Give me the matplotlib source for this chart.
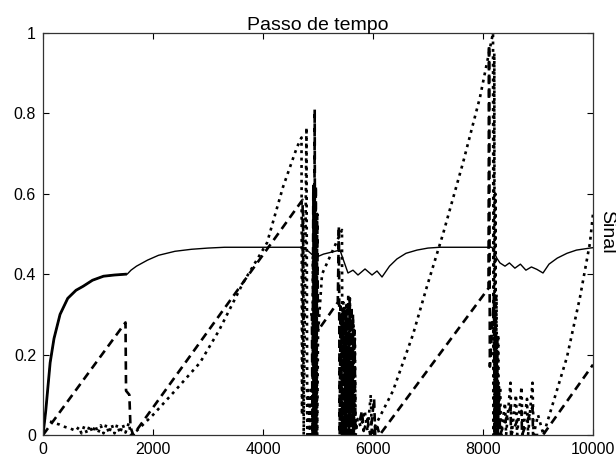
import matplotlib
matplotlib.use('Agg')
import matplotlib.pyplot as plt
import numpy as np

plt.rcParams['font.family'] = ['Liberation Sans', 'DejaVu Sans']

# linha continua
t_cont = [0, 50, 130, 200, 310, 450, 600, 730, 900, 1100, 1300, 1500, 1530, 1600, 1700, 1900,
          2100, 2400, 2700, 3000, 3300, 4700, 4800, 4900, 4980, 5100, 5250, 5400, 5450, 5545,
          5636, 5727, 5855, 5982, 6073, 6164, 6300, 6436, 6600, 6800, 7000, 7218, 8164, 8250,
          8309, 8400, 8480, 8580, 8680, 8780, 8880, 8980, 9091, 9200, 9350, 9527, 9700, 9945, 10000]
y_cont = [0, 0.06, 0.18, 0.24, 0.30, 0.34, 0.36, 0.37, 0.385, 0.395, 0.398, 0.40, 0.40, 0.41, 0.42, 0.435,
          0.447, 0.457, 0.462, 0.465, 0.467, 0.467, 0.46, 0.448, 0.443, 0.45, 0.455, 0.46, 0.44, 0.403,
          0.41, 0.398, 0.413, 0.398, 0.408, 0.393, 0.42, 0.438, 0.452, 0.46, 0.465, 0.467, 0.467, 0.44,
          0.428, 0.42, 0.428, 0.415, 0.425, 0.41, 0.418, 0.412, 0.403, 0.425, 0.44, 0.452, 0.46, 0.465, 0.466]

# linha tracejada
t_trac = [0, 1500, 1510, 1570, 1590, 1640, 4720, 4730, 4745, 4890, 4900, 4915, 4925, 4940, 4950,
          4960, 4970, 4985, 5000, 5360, 5380, 5395, 5410, 5420, 5430, 5440, 5455, 5470, 5485, 5500,
          5515, 5530, 5545, 5560, 5575, 5590, 5605, 5620, 5635, 5650, 5665, 5680, 5750, 5800, 5830,
          5900, 5950, 6020, 6040, 6080, 6120, 8100, 8110, 8125, 8200, 8210, 8225, 8240, 8255, 8270,
          8290, 8310, 8500, 8510, 8700, 8710, 8900, 8910, 9090, 10000]
y_trac = [0, 0.28, 0.11, 0.10, 0.02, 0.0, 0.585, 0.29, 0.30, 0.30, 0.0, 0.62, 0.0, 0.81, 0.0,
          0.62, 0.0, 0.55, 0.26, 0.33, 0.52, 0.0, 0.32, 0.0, 0.30, 0.0, 0.31, 0.0, 0.30, 0.0,
          0.31, 0.0, 0.33, 0.0, 0.34, 0.0, 0.32, 0.0, 0.30, 0.0, 0.26, 0.02, 0.03, 0.06, 0.01,
          0.04, 0.0, 0.09, 0.0, 0.02, 0.0, 0.365, 0.97, 0.17, 0.35, 0.0, 0.30, 0.0, 0.25, 0.0,
          0.12, 0.0, 0.07, 0.0, 0.06, 0.0, 0.07, 0.0, 0.0, 0.175]

# linha pontilhada
t_pont = [0, 100, 200, 300, 400, 500, 600, 650, 700, 750, 800, 850, 900, 950, 1000, 1050, 1100,
          1150, 1200, 1250, 1300, 1350, 1400, 1450, 1500, 1560, 1600, 1700, 2000, 2400, 2855, 3200,
          3636, 4073, 4364, 4618, 4700, 4710, 4730, 4740, 4790, 4805, 4820, 4835, 4850, 4865, 4880,
          4895, 4910, 4925, 4940, 4955, 4970, 4985, 5000, 5073, 5436, 5445, 5460, 5475, 5490, 5505,
          5520, 5535, 5550, 5565, 5580, 5595, 5610, 5625, 5640, 5655, 5670, 5685, 5720, 5780, 5850,
          5900, 5960, 5980, 6000, 6364, 6727, 6982, 7273, 7636, 7945, 8182, 8195, 8205, 8215, 8225,
          8235, 8245, 8260, 8275, 8290, 8310, 8330, 8400, 8420, 8500, 8520, 8600, 8620, 8700, 8720,
          8800, 8820, 8900, 8920, 9000, 9100, 9164, 9527, 9764, 9945, 10000]
y_pont = [0.04, 0.035, 0.03, 0.026, 0.02, 0.016, 0.01, 0.02, 0.004, 0.022, 0.004, 0.024, 0.006, 0.024,
          0.004, 0.024, 0.004, 0.026, 0.004, 0.026, 0.004, 0.026, 0.004, 0.026, 0.006, 0.03, 0.0, 0.01,
          0.05, 0.11, 0.18, 0.26, 0.378, 0.478, 0.617, 0.716, 0.74, 0.05, 0.55, 0.0, 0.765, 0.0, 0.12,
          0.0, 0.10, 0.0, 0.12, 0.0, 0.45, 0.0, 0.62, 0.0, 0.50, 0.0, 0.25, 0.40, 0.51, 0.0, 0.33,
          0.0, 0.32, 0.0, 0.33, 0.0, 0.35, 0.0, 0.34, 0.0, 0.31, 0.0, 0.28, 0.0, 0.24, 0.0, 0.04,
          0.02, 0.06, 0.01, 0.10, 0.0, 0.012, 0.11, 0.25, 0.37, 0.50, 0.677, 0.84, 1.0, 0.0, 0.95,
          0.0, 0.60, 0.0, 0.35, 0.0, 0.25, 0.0, 0.12, 0.0, 0.08, 0.0, 0.13, 0.0, 0.10, 0.0, 0.12,
          0.0, 0.09, 0.0, 0.13, 0.0, 0.05, 0.0, 0.03, 0.194, 0.343, 0.478, 0.55]

fig = plt.figure(figsize=(6.16, 4.59), dpi=100)
ax = fig.add_axes([43/616, 24/459, 550/616, 402/459])

ax.plot(t_cont, y_cont, color='black', lw=1.0, solid_joinstyle='round')
# o trecho inicial aparece mais grosso
n0 = t_cont.index(1500) + 1
ax.plot(t_cont[:n0], y_cont[:n0], color='black', lw=2.0)
ax.plot(t_trac, y_trac, color='black', lw=1.9, dashes=(3.2, 2.0))
ax.plot(t_pont, y_pont, color='black', lw=1.9, dashes=(1.1, 1.7))

ax.set_xlim(0, 10000)
ax.set_ylim(0, 1)
ax.set_xticks([0, 2000, 4000, 6000, 8000, 10000])
ax.set_yticks([0, 0.2, 0.4, 0.6, 0.8, 1])
ax.set_yticklabels(['0', '0.2', '0.4', '0.6', '0.8', '1'])
ax.tick_params(direction='in', top=True, right=True, length=4, width=0.8, labelsize=11.5, pad=5)
for s in ax.spines.values():
    s.set_linewidth(0.9)
    s.set_color('#333333')

ax.set_title('Passo de tempo', fontsize=14, pad=2)
fig.text(607/616, 1 - 232/459, 'Sinal', rotation=270, ha='center', va='center', fontsize=14)

fig.savefig('out.png', dpi=100)
